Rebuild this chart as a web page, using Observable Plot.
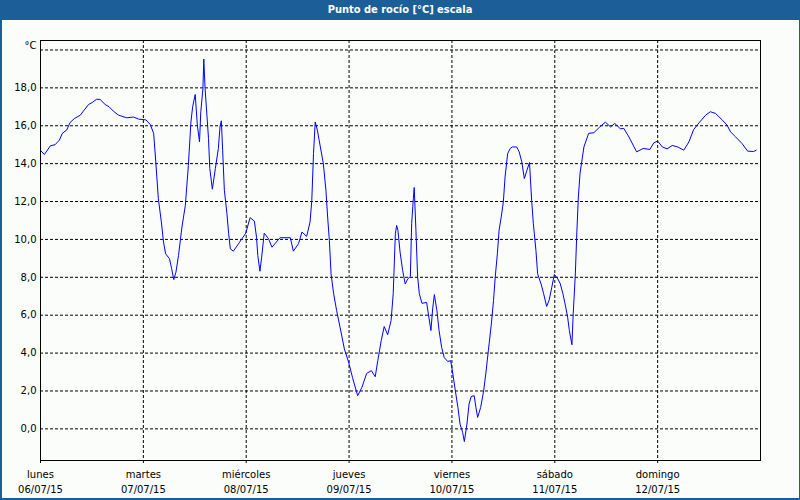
<!DOCTYPE html>
<html><head><meta charset="utf-8">
<script src="https://cdn.jsdelivr.net/npm/d3@7"></script>
<script src="https://cdn.jsdelivr.net/npm/@observablehq/plot@0.6"></script>
<style>
html,body{margin:0;padding:0;background:#fbfdfb;}
#wrap{position:relative;width:800px;height:500px;background:#fbfdfb;overflow:hidden;}
#title{height:20px;line-height:20px;background:#1c5f98;color:#fff;font-family:"DejaVu Sans Condensed","DejaVu Sans",sans-serif;font-weight:bold;font-size:11px;font-stretch:condensed;text-align:center;}
#border{position:absolute;left:0;top:0;width:800px;height:500px;box-sizing:border-box;border-left:2px solid #1c5f98;border-right:1px solid #1c5f98;border-bottom:2px solid #1c5f98;pointer-events:none;}
</style></head><body>
<div id="wrap"><div id="title">Punto de rocío [°C] escala</div><div id="chart"></div><div id="border"></div></div>
<script>
// hours since lunes 06/07/15 00:00
const hours = [
  0,0.9,2.3,3.4,4.4,5.1,6.1,6.9,7.9,9.3,10.0,11.2,12.1,13.1,13.9,15.1,16.0,17.0,18.2,20.1,21.7,22.9,
  24.6,25.6,26.4,26.9,27.5,28.2,28.7,29.2,30.1,30.6,31.1,31.6,32.2,33.0,33.8,34.5,35.1,35.5,36.1,36.6,37.1,37.4,37.9,38.1,38.4,39.2,39.5,40.1,40.8,41.5,41.9,42.2,42.5,42.9,43.5,43.9,44.3,45.0,46.2,47.9,
  48.9,49.9,50.4,50.7,51.2,51.6,52.2,53.2,54.0,55.9,58.3,59.0,60.2,61.0,62.1,62.9,63.3,63.7,64.1,64.6,65.3,66.0,66.6,67.0,67.4,67.8,68.4,69.1,69.9,70.9,71.9,
  72.8,74.0,75.0,76.1,77.2,78.1,78.7,79.5,80.2,81.0,81.8,82.3,82.8,83.1,83.4,83.9,84.5,85.1,85.7,86.3,86.6,87.0,87.2,87.6,88.0,88.4,89.0,90.1,90.5,91.1,91.5,91.9,92.5,93.0,93.6,94.2,95.0,95.7,
  96.1,96.8,97.4,97.9,98.5,98.9,99.5,100.0,100.5,101.2,101.6,102.0,102.7,103.4,103.9,104.5,105.2,105.7,106.1,106.6,107.0,107.5,108.0,108.4,109.0,109.6,110.1,111.1,111.7,112.3,112.9,113.5,114.1,114.6,115.0,115.6,116.0,116.8,117.4,118.1,118.7,119.3,119.9,
  120.7,121.3,121.9,122.4,123.0,123.4,124.0,124.3,124.8,125.1,125.5,125.9,126.8,127.9,129.1,130.5,131.8,133.0,134.0,135.3,136.1,137.3,139.1,140.6,142.2,143.1,
  144.0,145.1,146.2,147.4,148.7,150.1,151.3,152.4,153.8,155.2,156.3,157.5,159.1,160.2,161.0,162.2,163.7,165.0,166.4,167.0
];
// punto de rocío, °C
const dewPoint = [
  14.7,14.48,14.94,15.0,15.24,15.6,15.77,16.17,16.38,16.56,16.77,17.12,17.23,17.4,17.39,17.12,17.0,16.77,16.56,16.42,16.46,16.35,
  16.31,16.07,15.6,14.09,12.15,10.92,9.86,9.24,8.98,8.45,7.88,8.27,9.15,10.65,11.8,13.9,16.2,17.0,17.65,16.03,15.15,16.74,17.97,19.52,17.97,15.33,13.74,12.65,13.74,14.8,15.98,16.26,14.7,12.6,11.36,10.3,9.5,9.38,9.77,10.33,
  11.15,10.97,10.12,9.15,8.32,9.06,10.33,10.04,9.59,10.09,10.09,9.38,9.77,10.39,10.16,10.92,12.06,14.53,16.2,15.77,14.88,14.0,12.59,11.18,9.95,8.18,7.13,6.24,5.36,4.22,3.51,
  2.71,1.75,2.19,2.93,3.07,2.75,3.6,4.66,5.4,4.97,5.71,7.13,10.3,10.74,10.48,9.33,8.36,7.65,7.92,8.04,10.83,12.15,12.74,10.48,8.0,7.13,6.63,6.67,6.07,5.19,6.33,7.09,6.24,5.19,4.3,3.77,3.56,3.6,
  3.07,2.01,1.13,0.25,-0.19,-0.67,0.25,1.31,1.71,1.75,1.13,0.6,1.13,2.01,2.9,4.13,5.54,6.77,8.0,9.24,10.48,11.18,11.98,13.3,14.53,14.8,14.88,14.88,14.62,14.09,13.21,13.65,14.06,12.06,10.83,9.42,8.18,7.65,7.13,6.46,6.81,7.48,8.15,
  7.92,7.65,7.13,6.6,5.89,5.19,4.44,6.07,8.18,10.12,12.24,13.5,14.88,15.6,15.63,15.94,16.19,15.94,16.12,15.84,15.86,15.41,14.62,14.8,14.75,15.1,
  15.19,14.88,14.78,14.96,14.88,14.71,15.15,15.8,16.19,16.56,16.74,16.65,16.3,16.03,15.68,15.41,15.06,14.66,14.64,14.71
];
const dayTicks = [0, 24, 48, 72, 96, 120, 144];
const dayNames = ["lunes", "martes", "miércoles", "jueves", "viernes", "sábado", "domingo"];
const dayDates = ["06/07/15", "07/07/15", "08/07/15", "09/07/15", "10/07/15", "11/07/15", "12/07/15"];
const yTicks = [0, 2, 4, 6, 8, 10, 12, 14, 16, 18, 20];
const unitLabel = "°C";
const titleText = "Punto de rocío [°C] escala";

document.getElementById("title").textContent = titleText;
const data = hours.map((h, i) => ({h, v: dewPoint[i]}));
const dash = "3,2";
const chart = Plot.plot({
  width: 800, height: 480,
  marginLeft: 40, marginRight: 40, marginTop: 20, marginBottom: 40,
  style: {fontFamily: "DejaVu Sans, sans-serif", fontSize: "10px", color: "#000", background: "transparent", overflow: "visible"},
  x: {domain: [0, 168]},
  y: {domain: [-1.67, 20.5]},
  marks: [
    Plot.gridY(yTicks, {stroke: "#000", strokeOpacity: 1, strokeDasharray: dash}),
    Plot.gridX(dayTicks.slice(1), {stroke: "#000", strokeOpacity: 1, strokeDasharray: dash}),
    Plot.axisY(yTicks.filter(d => d < 20), {tickSize: 0, tickPadding: 4, label: null,
      tickFormat: d => d.toFixed(1).replace(".", ",")}),
    Plot.text([unitLabel], {y: [20], text: d => d, frameAnchor: "left", textAnchor: "end", dx: -4, dy: -4, fill: "#000"}),
    Plot.axisX(dayTicks, {tickSize: 3, tickPadding: 4, label: null, lineHeight: 1.5,
      tickFormat: d => { const i = dayTicks.indexOf(d); return dayNames[i] + "\n" + dayDates[i]; }}),
    Plot.line(data, {x: "h", y: "v", stroke: "#0000ff", strokeWidth: 1}),
    Plot.frame({stroke: "#000"})
  ]
});
document.getElementById("chart").appendChild(chart);
</script>
</body></html>
